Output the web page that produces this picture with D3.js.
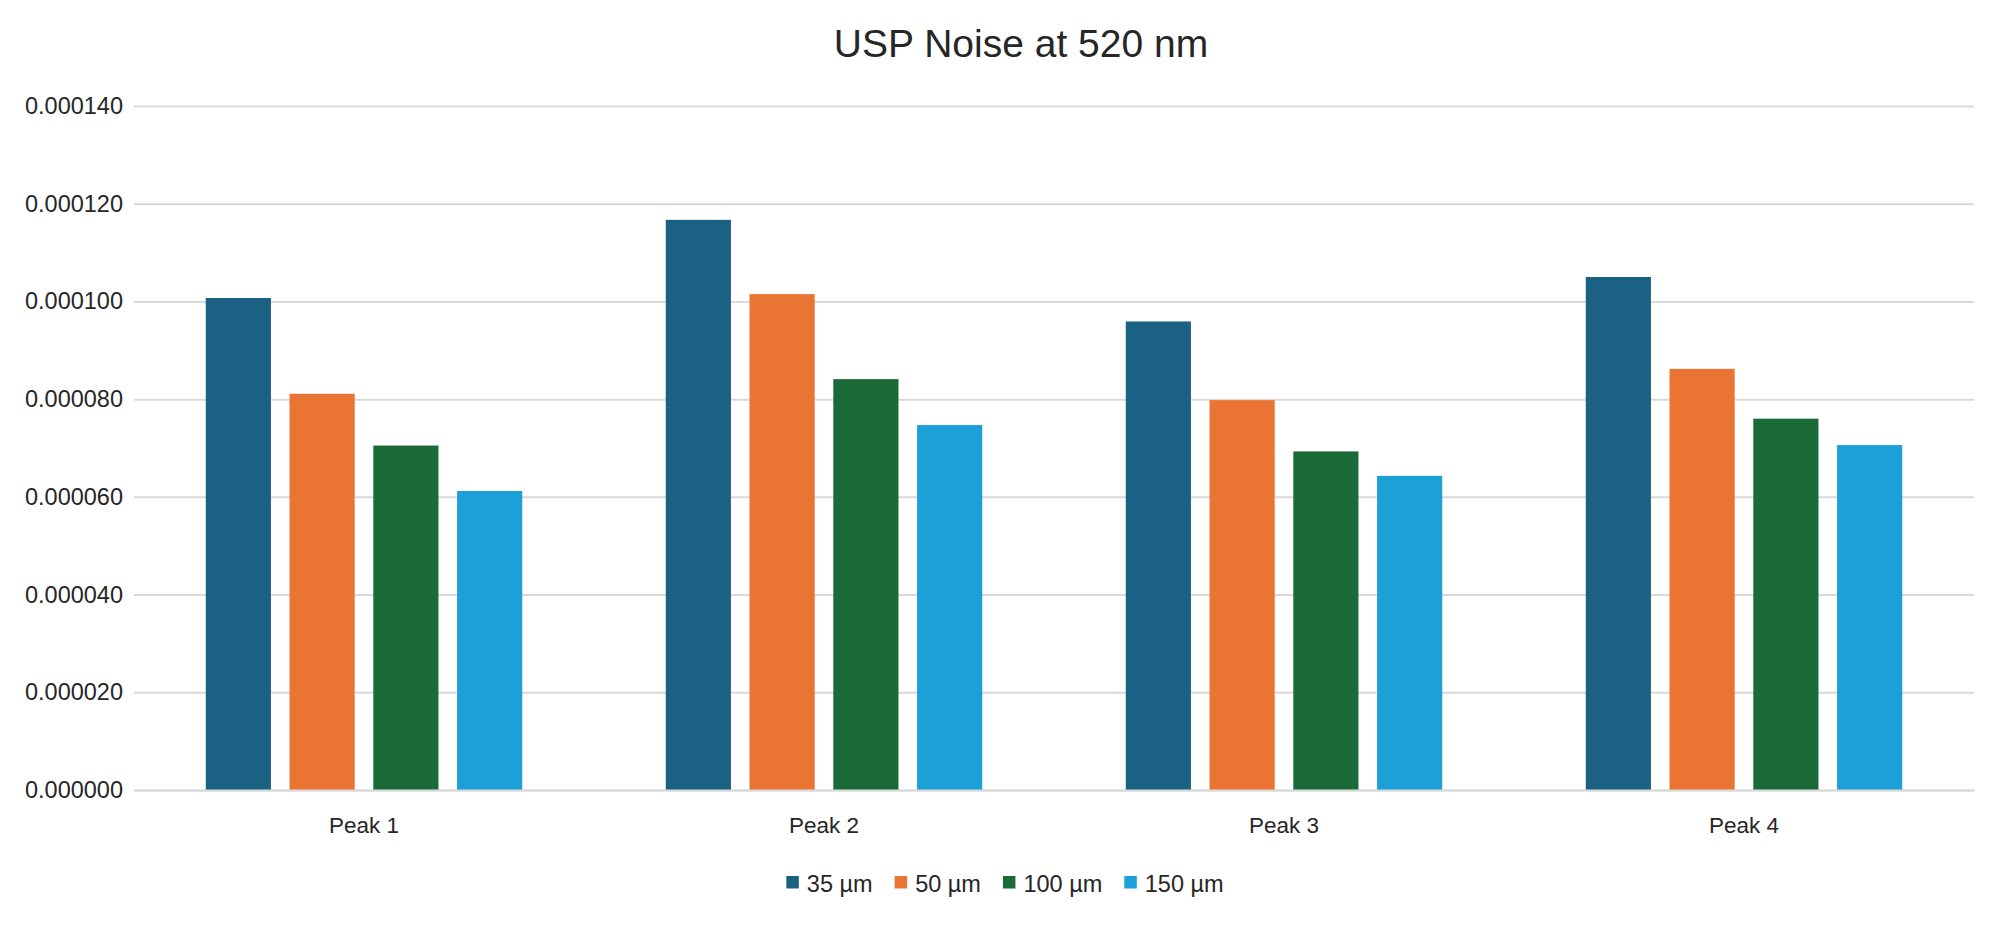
<!DOCTYPE html>
<html>
<head>
<meta charset="utf-8">
<script src="https://cdn.jsdelivr.net/npm/d3@7"></script>
<style>
  body { margin: 0; background: #fff; }
  svg text { font-family: "Liberation Sans", Arial, sans-serif; fill: #262626; }
</style>
</head>
<body>
<svg id="chart"></svg>
<script>
const categories = ["Peak 1", "Peak 2", "Peak 3", "Peak 4"];
const seriesNames = ["35 µm", "50 µm", "100 µm", "150 µm"];
const seriesColors = ["#1a6183", "#ea7434", "#1b6b38", "#1ba0d8"];
const values35 = [0.0001007, 0.0001167, 0.0000959, 0.0001050];
const values50 = [0.0000811, 0.0001015, 0.0000798, 0.0000862];
const values100 = [0.0000705, 0.0000841, 0.0000693, 0.0000760];
const values150 = [0.0000612, 0.0000747, 0.0000643, 0.0000706];
const yTicks = [0, 0.00002, 0.00004, 0.00006, 0.00008, 0.0001, 0.00012, 0.00014];

const seriesValues = [values35, values50, values100, values150];

const width = 2000, height = 934;
const margin = { top: 106, right: 26, bottom: 144, left: 134 };
const innerW = width - margin.left - margin.right;
const innerH = height - margin.top - margin.bottom;

const svg = d3.select("#chart").attr("width", width).attr("height", height);

const x0 = d3.scaleBand().domain(categories).range([0, innerW]).padding(0);
const groupW = x0.bandwidth() * 0.688;
const x1 = d3.scaleBand().domain(seriesNames).range([0, groupW]).paddingInner(0.222).paddingOuter(0);
const y = d3.scaleLinear().domain([0, 0.00014]).range([innerH, 0]);

const g = svg.append("g").attr("transform", `translate(${margin.left},${margin.top})`);

// gridlines
g.append("g")
  .call(d3.axisLeft(y).tickValues(yTicks).tickSize(-innerW).tickFormat(d3.format(".6f")))
  .call(a => a.select(".domain").remove())
  .call(a => a.selectAll("line").attr("stroke", "#d9d9d9").attr("stroke-width", 2))
  .call(a => a.selectAll("text").attr("x", -11).style("font-size", "23.5px").attr("fill", "#262626"));

// bars
const groups = g.selectAll("g.group")
  .data(categories)
  .join("g")
  .attr("class", "group")
  .attr("transform", d => `translate(${x0(d) + (x0.bandwidth() - groupW) / 2},0)`);

groups.selectAll("rect")
  .data((c, i) => seriesNames.map((s, j) => ({ s, j, v: seriesValues[j][i] })))
  .join("rect")
  .attr("x", d => x1(d.s))
  .attr("y", d => y(d.v))
  .attr("width", x1.bandwidth())
  .attr("height", d => innerH - y(d.v))
  .attr("fill", d => seriesColors[d.j]);

// x axis
g.append("g")
  .attr("transform", `translate(0,${innerH})`)
  .call(d3.axisBottom(x0).tickSize(0).tickPadding(27))
  .call(a => a.select(".domain").attr("stroke", "#d9d9d9").attr("stroke-width", 2))
  .call(a => a.selectAll("text").style("font-size", "22.5px").attr("fill", "#262626"));

// title
svg.append("text")
  .attr("x", 1021).attr("y", 57)
  .attr("text-anchor", "middle")
  .style("font-size", "39px")
  .text("USP Noise at 520 nm");

// legend
const legend = svg.append("g").attr("transform", "translate(0,892)");
const items = legend.selectAll("g").data(seriesNames).join("g");
items.append("rect").attr("y", -16).attr("width", 12.5).attr("height", 12.5)
  .attr("fill", (d, i) => seriesColors[i]);
items.append("text").attr("x", 20.5).style("font-size", "23.5px").text(d => d);
let lx = 0;
const offsets = [];
items.each(function () {
  offsets.push(lx);
  lx += 20.5 + this.querySelector("text").getComputedTextLength() + 22;
});
const legendW = lx - 22;
const lStart = 1005 - legendW / 2;
items.attr("transform", (d, i) => `translate(${lStart + offsets[i]},0)`);
</script>
</body>
</html>
